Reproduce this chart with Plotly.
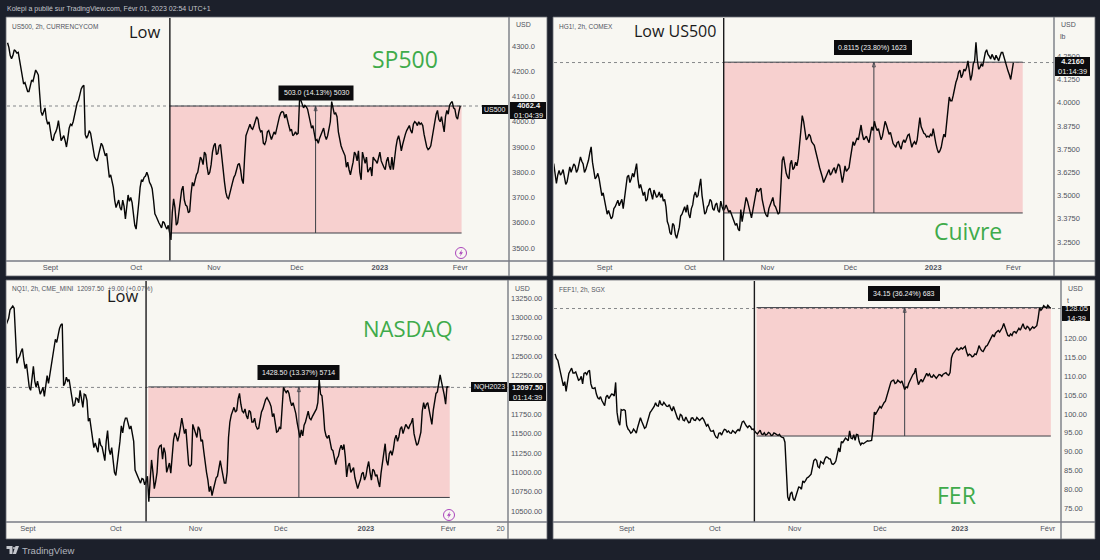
import pandas as pd
import plotly.graph_objects as go

# values, close then midday value, 10 days per row
us500_close = [
    4313, 4295, 4262, 4250, 4262, 4285, 4280, 4272, 4275, 4240, 4215, 4180, 4150, 4155, 4135, 4120, 4120, 4145, 4165, 4160,
    4190, 4205, 4196, 4185, 4110, 4040, 4025, 4045, 4055, 4010, 3990, 4000, 3960, 3930, 3925, 3950, 3960, 3975, 4005, 3960,
    3925, 3935, 3945, 3925, 3900, 3935, 3975, 3990, 3985, 4000, 4030, 4060, 4075, 4085, 4115, 4130, 4140, 4145, 3950, 3935,
    3945, 3965, 3955, 3925, 3880, 3860, 3850, 3845, 3870, 3890, 3915, 3905, 3880, 3865, 3875, 3820, 3780, 3790, 3760, 3740,
    3690, 3660, 3675, 3690, 3660, 3650, 3690, 3665, 3615, 3660, 3710, 3685, 3700, 3680, 3640, 3590, 3575, 3620, 3680, 3740,
    3770, 3765, 3780, 3785, 3800, 3785, 3760, 3750, 3735, 3690, 3635, 3625, 3610, 3600, 3590, 3580, 3605, 3600, 3585, 3575,
    3590, 3560, 3532, 3640, 3695, 3660, 3590, 3600, 3650, 3700, 3730, 3745, 3690, 3670, 3665, 3640, 3645, 3715, 3760, 3745,
    3770, 3790, 3800, 3830, 3860, 3850, 3830, 3880, 3870, 3820, 3790, 3800, 3830, 3880, 3905, 3915, 3870, 3875, 3905, 3910,
    3850, 3800, 3760, 3720, 3700, 3695, 3720, 3745, 3760, 3780, 3790, 3810, 3830, 3835, 3810, 3770, 3755, 3860, 3945, 3960,
    3980, 3990, 3975, 3970, 3985, 4000, 4020, 4010, 3975, 3960, 3965, 3915, 3910, 3925, 3960, 3965, 3950, 3930, 3945, 3960,
    3950, 3975, 4000, 4020, 4035, 4040, 4038, 4015, 4030, 4000, 3985, 3965, 3970, 3945, 3950, 3960, 3950, 3955, 4085, 4085,
    4070, 4055, 4065, 4060, 4050, 4020, 3995, 3975, 3985, 3950, 3925, 3930, 3915, 3935, 3950, 3965, 3975, 3945, 3930, 3945,
    3970, 4000, 4080, 4060, 4030, 4035, 4020, 3960, 3930, 3905, 3890, 3880, 3865, 3820, 3840, 3810, 3790, 3815, 3840, 3880,
    3870, 3845, 3885, 3800, 3770, 3880, 3860, 3835, 3860, 3800, 3810, 3820, 3785, 3860, 3850, 3845, 3835, 3860, 3880, 3845,
    3830, 3820, 3810, 3845, 3860, 3825, 3810, 3860, 3810, 3860, 3900, 3930, 3945, 3920, 3885, 3910, 3935, 3950, 3965, 3975,
    3985, 3965, 3955, 3990, 4000, 3995, 3985, 4000, 3990, 3995, 3985, 3950, 3920, 3900, 3890, 3895, 3905, 3935, 3975, 4010,
    4030, 4045, 4010, 4000, 4020, 3990, 3960, 4020, 4045, 4030, 4065, 4075, 4080, 4055, 4050, 4020, 4010, 4040, 4062.4]

copper_close = [
    3.672, 3.600, 3.565, 3.610, 3.636, 3.610, 3.620, 3.640, 3.590, 3.560, 3.574, 3.630, 3.655, 3.625, 3.645, 3.670, 3.660, 3.625, 3.640, 3.680,
    3.708, 3.685, 3.670, 3.625, 3.640, 3.665, 3.690, 3.730, 3.762, 3.680, 3.640, 3.590, 3.600, 3.620, 3.590, 3.540, 3.500, 3.515, 3.470, 3.420,
    3.400, 3.420, 3.390, 3.375, 3.386, 3.430, 3.440, 3.460, 3.475, 3.445, 3.460, 3.480, 3.430, 3.490, 3.540, 3.600, 3.610, 3.570, 3.590, 3.620,
    3.600, 3.650, 3.672, 3.590, 3.540, 3.560, 3.530, 3.500, 3.520, 3.470, 3.480, 3.530, 3.540, 3.510, 3.480, 3.530, 3.510, 3.490, 3.500, 3.520,
    3.490, 3.510, 3.470, 3.480, 3.440, 3.360, 3.340, 3.300, 3.290, 3.350, 3.340, 3.290, 3.270, 3.300, 3.330, 3.390, 3.400, 3.420, 3.440, 3.410,
    3.450, 3.400, 3.380, 3.430, 3.450, 3.500, 3.520, 3.490, 3.500, 3.550, 3.590, 3.500, 3.440, 3.400, 3.410, 3.440, 3.450, 3.480, 3.470, 3.430,
    3.420, 3.450, 3.460, 3.420, 3.410, 3.470, 3.440, 3.420, 3.430, 3.450, 3.430, 3.410, 3.420, 3.400, 3.380, 3.350, 3.340, 3.350, 3.320, 3.310,
    3.425, 3.360, 3.400, 3.450, 3.490, 3.470, 3.430, 3.410, 3.380, 3.420, 3.440, 3.500, 3.540, 3.520, 3.530, 3.540, 3.480, 3.440, 3.410, 3.395,
    3.385, 3.430, 3.450, 3.470, 3.490, 3.450, 3.440, 3.420, 3.400, 3.410, 3.560, 3.690, 3.710, 3.650, 3.620, 3.600, 3.590, 3.670, 3.690, 3.640,
    3.650, 3.680, 3.660, 3.700, 3.790, 3.860, 3.930, 3.900, 3.840, 3.800, 3.810, 3.830, 3.820, 3.790, 3.780, 3.770, 3.740, 3.700, 3.680, 3.650,
    3.630, 3.600, 3.570, 3.590, 3.610, 3.620, 3.640, 3.610, 3.620, 3.640, 3.650, 3.620, 3.640, 3.670, 3.660, 3.610, 3.570, 3.610, 3.660, 3.630,
    3.640, 3.650, 3.700, 3.760, 3.790, 3.770, 3.790, 3.810, 3.800, 3.850, 3.880, 3.830, 3.800, 3.810, 3.820, 3.800, 3.785, 3.830, 3.870, 3.850,
    3.900, 3.870, 3.850, 3.860, 3.830, 3.800, 3.820, 3.860, 3.900, 3.880, 3.860, 3.830, 3.840, 3.810, 3.780, 3.770, 3.760, 3.785, 3.790, 3.765,
    3.750, 3.785, 3.800, 3.785, 3.810, 3.825, 3.830, 3.790, 3.760, 3.780, 3.790, 3.775, 3.800, 3.860, 3.920, 3.870, 3.850, 3.835, 3.830, 3.815,
    3.820, 3.815, 3.830, 3.820, 3.860, 3.810, 3.780, 3.750, 3.730, 3.740, 3.760, 3.800, 3.830, 3.815, 3.880, 3.960, 4.030, 4.010, 4.010, 4.040,
    4.080, 4.110, 4.130, 4.165, 4.175, 4.135, 4.150, 4.180, 4.170, 4.190, 4.225, 4.170, 4.120, 4.150, 4.210, 4.225, 4.325, 4.230, 4.180, 4.190,
    4.210, 4.195, 4.240, 4.270, 4.285, 4.260, 4.250, 4.235, 4.260, 4.240, 4.230, 4.255, 4.240, 4.225, 4.250, 4.270, 4.270, 4.245, 4.210, 4.190,
    4.170, 4.150, 4.125, 4.170, 4.216]

nasdaq_close = [
    12900, 12950, 12990, 13100, 13130, 13150, 13120, 12700, 12410, 12470, 12500, 12560, 12600, 12450, 12340, 12400, 12280, 12100, 12060, 12250,
    12370, 12180, 12100, 12180, 12070, 12010, 12050, 12100, 11982, 12090, 12250, 12150, 12260, 12380, 12500, 12620, 12720, 12680, 12790, 12860,
    12906, 12920, 12120, 12150, 12230, 12180, 12200, 12100, 11990, 11860, 11870, 11960, 11950, 11900, 12060, 11950, 11840, 12010, 12000, 11930,
    11660, 11700, 11560, 11400, 11320, 11380, 11300, 11260, 11440, 11350, 11330, 11250, 11150, 11400, 11540, 11300, 11230, 11320, 11150, 11000,
    10960, 11100, 11200, 11400, 11600, 11510, 11640, 11700, 11700, 11620, 11560, 11600, 11500, 11400, 11030, 10990, 10960, 10900, 10860, 10920,
    10910, 10840, 10880, 10950, 10620, 10900, 11160, 11000, 10790, 10880, 11000, 11300, 11340, 11350, 11170, 11320, 11250, 11000, 11060, 11120,
    10990, 11200, 11420, 11510, 11470, 11400, 11470, 11580, 11700, 11600, 11500, 11560, 11350, 11100, 11080, 11100, 11620, 11560, 11500, 11450,
    11590, 11550, 11400, 11420, 11270, 11090, 11000, 10900, 10750, 10820, 10700, 10780, 10850, 10930, 10950, 11060, 11150, 11050, 10950, 10860,
    10860, 11000, 11450, 11650, 11740, 11800, 11840, 11780, 11800, 11950, 12020, 11880, 11790, 11770, 11820, 11730, 11690, 11800, 11780, 11650,
    11650, 11700, 11600, 11560, 11570, 11680, 11780, 11820, 11900, 11940, 11965, 11940, 11900, 11850, 11720, 11760, 11640, 11520, 11530, 11580,
    11560, 11800, 12100, 12060, 12030, 12060, 12020, 11920, 11860, 11900, 11830, 11760, 11640, 11520, 11450, 11550, 11470, 11610, 11650, 11720,
    11790, 11700, 11680, 11720, 11760, 11780, 11820, 11900, 12200, 12010, 11990, 11800, 11550, 11470, 11440, 11480, 11390, 11300, 11280, 11180,
    11100, 11180, 11210, 11300, 11350, 11290, 11360, 11200, 10940, 11080, 11120, 11000, 11030, 11060, 10930, 10860, 10790, 10850, 10900, 10980,
    11000, 10900, 10950, 11060, 11140, 11000, 10900, 11040, 11020, 10950, 10970, 10880, 10810, 10990, 11100, 11250, 11370, 11150, 11090, 11240,
    11280, 11220, 11300, 11430, 11480, 11400, 11460, 11560, 11590, 11500, 11550, 11620, 11590, 11560, 11610, 11640, 11700, 11500, 11420, 11350,
    11370, 11440, 11520, 11790, 11900, 11820, 11880, 11900, 11820, 11700, 11620, 11800, 11900, 12020, 12040, 12150, 12260, 12170, 12090, 12000,
    11880, 12110, 12097.5]

iron_close = [
    116.0, 114.8, 114.3, 112.5, 110.5, 108.8, 107.5, 108.6, 106.0, 108.5, 110.8, 111.5, 112.2, 110.9, 110.9, 111.2, 110.3, 109.0, 109.2, 110.0,
    108.0, 110.8, 111.0, 110.5, 111.3, 111.6, 108.0, 106.9, 106.8, 107.0, 105.3, 104.3, 104.0, 104.6, 103.6, 102.7, 102.2, 104.5, 105.0, 104.1,
    104.6, 105.3, 105.2, 104.8, 108.4, 100.5, 98.0, 97.0, 101.2, 101.0, 101.2, 100.9, 97.0, 96.0, 95.6, 94.9, 95.2, 96.0, 95.5, 94.9,
    96.5, 97.8, 99.0, 98.0, 97.0, 96.2, 96.5, 97.8, 98.5, 100.4, 100.9, 101.5, 102.0, 103.0, 102.2, 102.1, 103.6, 102.6, 102.4, 103.1,
    102.4, 102.1, 102.0, 102.5, 101.5, 100.8, 102.0, 101.0, 100.0, 98.8, 98.5, 99.9, 99.6, 98.4, 98.2, 99.2, 98.4, 97.7, 97.8, 98.9,
    99.0, 98.4, 98.3, 99.1, 98.7, 98.3, 98.7, 99.0, 98.5, 97.4, 96.8, 97.2, 96.5, 95.5, 95.4, 95.6, 94.5, 93.8, 93.6, 94.9,
    95.0, 94.4, 95.3, 95.9, 95.8, 95.2, 95.5, 95.0, 94.9, 95.6, 95.3, 94.9, 95.5, 95.9, 95.5, 96.6, 97.9, 98.1, 97.3, 96.8,
    96.4, 96.9, 96.6, 95.9, 96.0, 95.4, 95.0, 94.7, 95.4, 95.7, 94.7, 94.5, 95.0, 94.4, 94.6, 95.1, 94.9, 94.3, 94.4, 95.0,
    94.8, 94.5, 94.3, 94.6, 94.0, 93.8, 93.7, 92.5, 84.0, 78.0, 76.9, 78.8, 79.3, 77.5, 77.0, 78.2, 79.0, 80.6, 80.5, 80.0,
    82.2, 81.8, 82.3, 83.0, 83.2, 83.5, 84.0, 85.8, 87.6, 88.0, 87.7, 86.0, 85.7, 87.4, 87.0, 86.8, 88.0, 88.6, 88.5, 88.1,
    88.0, 86.8, 86.6, 86.9, 87.5, 89.5, 91.0, 89.9, 92.7, 92.4, 93.0, 93.6, 93.3, 92.9, 95.5, 93.6, 93.4, 94.5, 93.0, 94.6,
    94.5, 92.6, 91.8, 92.3, 92.1, 92.4, 92.7, 92.9, 92.8, 93.0, 93.0, 96.0, 100.5, 100.0, 100.6, 101.5, 102.0, 101.6, 102.4, 103.0,
    103.4, 104.8, 106.0, 107.5, 108.5, 108.9, 109.0, 108.1, 108.3, 109.0, 108.7, 108.3, 108.8, 107.5, 106.5, 107.2, 107.0, 108.2, 109.0, 109.6,
    110.5, 110.9, 112.2, 109.5, 107.8, 108.6, 109.2, 108.5, 109.3, 110.3, 110.8, 110.2, 110.7, 109.9, 109.8, 110.4, 109.8, 109.5, 110.0, 110.5,
    110.4, 110.0, 110.6, 110.9, 111.0, 110.5, 110.3, 111.0, 114.9, 116.0, 116.4, 117.0, 117.5, 117.0, 117.2, 117.6, 117.3, 117.6, 118.0, 116.5,
    115.5, 115.9, 115.7, 115.2, 115.4, 116.0, 115.8, 116.8, 118.2, 117.4, 116.8, 116.6, 117.5, 118.0, 118.2, 119.0, 119.9, 120.5, 121.1, 120.5,
    121.5, 121.9, 122.2, 121.8, 122.4, 123.0, 124.1, 122.6, 121.9, 120.9, 120.7, 121.3, 120.9, 121.8, 121.9, 121.5, 122.4, 122.8, 122.3, 123.0,
    124.0, 122.9, 122.6, 123.3, 123.0, 122.3, 122.7, 123.2, 122.8, 123.1, 123.5, 125.5, 128.2, 127.6, 128.0, 128.8, 128.6, 128.2, 128.9, 128.4,
    128.05]

# tick labels
month_labels = ["Sept", "Oct", "Nov", "Déc", "<b>2023</b>", "Févr"]
month_dates = ["2022-09-01", "2022-10-03", "2022-11-01", "2022-12-02", "2023-01-02", "2023-02-01"]
us500_ticks = [4300, 4200, 4100, 4000, 3900, 3800, 3700, 3600, 3500]
copper_ticks = [4.25, 4.125, 4.0, 3.875, 3.75, 3.625, 3.5, 3.375, 3.25]
nasdaq_ticks = [13250, 13000, 12750, 12500, 12250, 11750, 11500, 11250, 11000, 10750, 10500]
iron_ticks = [120, 115, 110, 105, 100, 95, 90, 85, 80, 75]

BG = "#1c202b"
PANEL = "#f8f7f2"
PINK = "#f7d0cf"
GREEN = "#3fab4b"
TXT = "#50535e"
SEP = "#787b84"
FONT = "Liberation Sans"
BIG = "Open Sans"


def day(d):
    return pd.Timestamp("2022-09-01") + pd.Timedelta(days=d)


# pixel boxes are only layout; price/time bits come from the chart
panels = [
    dict(name="US500, 2h, CURRENCYCOM", vals=us500_close, start=-16, box=(7, 18, 509, 261), outer=(547, 276), xr=(-16.2, 171.2),
         yr=(3448.5, 4411), ticks=us500_ticks, fmt=".1f", low=44.6, end=153.5, arrow=99, lo=3559.4, hi=4062.4, last=4062.4,
         label="503.0 (14.13%) 5030", lab=(316, 93, 75, 15)),
    dict(name="HG1!, 2h, COMEX", vals=copper_close, start=-19, box=(554, 18, 1054, 261), outer=(1095, 276), xr=(-18.9, 168.2),
         yr=(3.148, 4.4557), ticks=copper_ticks, fmt=".4f", low=44.6, end=156.5, arrow=100.8, lo=3.4065, hi=4.218, last=4.216,
         label="0.8115 (23.80%) 1623", lab=(873, 47.5, 78, 15)),
    dict(name="NQ1!, 2h, CME_MINI  12097.50  +9.00 (+0.07%)", vals=nasdaq_close, start=-8, box=(7, 281, 508, 522), outer=(547, 539), xr=(-7.6, 174.7),
         yr=(10358, 13473), ticks=nasdaq_ticks, fmt=".2f", low=43.0, end=153.5, arrow=98.6, lo=10675.5, hi=12104, last=12097.5,
         label="1428.50 (13.37%) 5714", lab=(298.5, 372.5, 82, 15)),
    dict(name="FEF1!, 2h, SGX", vals=iron_close, start=-26, box=(554, 281, 1061, 522), outer=(1095, 539), xr=(-26.4, 157.8),
         yr=(71.29, 135.37), ticks=iron_ticks, fmt=".2f", low=46.4, end=154.1, arrow=101, lo=94.15, hi=128.3, last=128.05,
         label="34.15 (36.24%) 683", lab=(904, 293.5, 72, 15)),
]

fig = go.Figure()
shapes = []
annots = []


def px(x):
    return x / 1100


def py(y):
    return 1 - y / 560


def add_text(x, y, text, size=7, color=TXT, family=FONT, xanchor="left"):
    annots.append(dict(x=px(x), y=py(y), xref="paper", yref="paper", text=text, showarrow=False,
                       xanchor=xanchor, yanchor="middle", font=dict(size=size, color=color, family=family)))


def add_tag(x0, y0, x1, y1, text, size=7.5, color="#f0f0f0"):
    shapes.append(dict(type="rect", xref="paper", yref="paper", x0=px(x0), x1=px(x1), y0=py(y0), y1=py(y1),
                       fillcolor="#0c0c0e", line=dict(width=0), layer="above"))
    add_text((x0 + x1) / 2, (y0 + y1) / 2, text, size=size, color=color, xanchor="center")


def add_sep(x0, y0, x1, y1):
    shapes.append(dict(type="line", xref="paper", yref="paper", x0=px(x0), x1=px(x1), y0=py(y0), y1=py(y1),
                       line=dict(color=SEP, width=1.4)))


def add_bolt(cx, cy):
    shapes.append(dict(type="circle", xref="paper", yref="paper", x0=px(cx - 5.5), x1=px(cx + 5.5), y0=py(cy + 5.5), y1=py(cy - 5.5),
                       line=dict(color="#ab47bc", width=1), fillcolor="rgba(0,0,0,0)"))
    pts = [(1, -3.5), (-2, 0.7), (-0.2, 0.7), (-1, 3.5), (2, -0.7), (0.2, -0.7)]
    path = "M " + " L ".join(f"{px(cx + a):.5f},{py(cy + b):.5f}" for a, b in pts) + " Z"
    shapes.append(dict(type="path", xref="paper", yref="paper", path=path, fillcolor="#ab47bc", line=dict(width=0)))


for i, p in enumerate(panels):
    n = "" if i == 0 else str(i + 1)
    xa, ya = "x" + n, "y" + n
    l, t, r, b = p["box"]
    dates = pd.date_range(day(p["start"]), periods=len(p["vals"]), freq="12h")

    # whole panel background including the axis strips
    shapes.append(dict(type="rect", xref="paper", yref="paper", x0=px(l - 1), x1=px(p["outer"][0]), y0=py(p["outer"][1]), y1=py(t - 1),
                       fillcolor=PANEL, line=dict(width=0.8, color="#6a6d75"), layer="below"))

    # measure box
    box_x0 = day(p["low"] + (0.8 if i >= 2 else 0))
    shapes.append(dict(type="rect", xref=xa, yref=ya, x0=box_x0, x1=day(p["end"]), y0=p["lo"], y1=p["hi"],
                       fillcolor=PINK, line=dict(width=0), layer="below"))
    for lev in (p["lo"], p["hi"]):
        shapes.append(dict(type="line", xref=xa, yref=ya, x0=box_x0, x1=day(p["end"]), y0=lev, y1=lev,
                           line=dict(color="#3c3f46", width=1), layer="below"))
    shapes.append(dict(type="line", xref=xa, yref=ya, x0=day(p["arrow"]), x1=day(p["arrow"]), y0=p["lo"], y1=p["hi"],
                       line=dict(color="#3c3f46", width=1), layer="below"))
    # dotted last price
    shapes.append(dict(type="line", xref=xa, yref=ya, x0=day(p["xr"][0]), x1=day(p["xr"][1]), y0=p["last"], y1=p["last"],
                       line=dict(color="#55585f", width=0.7, dash="dot"), layer="below"))
    # low marker
    shapes.append(dict(type="line", xref=xa, yref="paper", x0=day(p["low"]), x1=day(p["low"]), y0=py(b), y1=py(t),
                       line=dict(color="#1a1a1c", width=1.4)))

    fig.add_trace(go.Scatter(x=dates, y=p["vals"], mode="lines", xaxis=xa, yaxis=ya, showlegend=False,
                             line=dict(color="#060606", width=1.4)))
    fig.add_trace(go.Scatter(x=[day(p["arrow"])], y=[p["hi"]], mode="markers", xaxis=xa, yaxis=ya, showlegend=False,
                             marker=dict(symbol="arrow-open", size=5, color="#3c3f46", line=dict(width=0.8, color="#3c3f46"))))

    tickv = [pd.Timestamp(d) for d in month_dates]
    tickt = list(month_labels)
    if i == 2:
        tickv.append(day(172))
        tickt.append("20")
    if i == 3:
        tickv[4] = pd.Timestamp("2022-12-31")

    ax_line = dict(showline=False, showgrid=False, zeroline=False, ticks="", automargin=False)
    fig.update_layout(**{
        "xaxis" + n: dict(domain=[px(l), px(r)], range=[day(p["xr"][0]), day(p["xr"][1])], anchor=ya, type="date",
                          tickvals=tickv, ticktext=tickt, tickfont=dict(size=7.5, color=TXT, family=FONT), **ax_line),
        "yaxis" + n: dict(domain=[py(b), py(t)], range=list(p["yr"]), anchor=xa, side="right", ticklabelstandoff=2,
                          tickvals=p["ticks"], ticktext=[format(v, p["fmt"]) for v in p["ticks"]],
                          tickfont=dict(size=7.5, color=TXT, family=FONT), **ax_line),
    })

    # axis strip separators run to the panel edges
    add_sep(r, t - 1, r, p["outer"][1])
    add_sep(l - 1, b, p["outer"][0], b)

    add_text(l + 3, t + 8, p["name"], size=6.5)
    add_text(r + 5, t + 7, "USD")
    cx, cy, w, h = p["lab"]
    add_tag(cx - w / 2, cy - h / 2, cx + w / 2, cy + h / 2, p["label"], size=7)

add_text(1058, 37, "lb")
add_text(1065, 300, "t")

# right hand tags
add_tag(482, 105, 508, 114, "US500", size=7)
add_tag(510, 102, 546, 119, "<b>4062.4</b><br>01:04:39")
add_tag(1055, 57, 1090, 76, "<b>4.2160</b><br>01:14:39")
add_tag(471, 382, 507, 392, "NQH2023", size=7)
add_tag(509, 383, 546, 401, "<b>12097.50</b><br>01:14:39")
add_tag(1062, 306, 1090, 321, "128.05<br>14:39")

# big hand written notes
add_text(145, 31, "Low", size=16.5, color="#1a1a1a", family=BIG, xanchor="center")
add_text(405, 59, "SP500", size=23, color=GREEN, family=BIG, xanchor="center")
add_text(674.5, 31, "Low US500", size=16, color="#1a1a1a", family=BIG, xanchor="center")
add_text(968, 231, "Cuivre", size=23, color=GREEN, family=BIG, xanchor="center")
add_text(122.8, 295, "Low", size=16.5, color="#1a1a1a", family=BIG, xanchor="center")
add_text(408, 328, "NASDAQ", size=22, color=GREEN, family=BIG, xanchor="center")
add_text(956, 495, "FER", size=23, color=GREEN, family=BIG, xanchor="center")

add_bolt(461, 253)
add_bolt(449, 515)

# header + footer
add_text(5, 9, "Kolepi a publié sur TradingView.com, Févr 01, 2023 02:54 UTC+1", color="#c4c6cc")
add_text(20, 550, "TradingView", size=9.5, color="#b2b5be")
logo = [(6.5, 546), (12.5, 546), (12.5, 554), (9.5, 554), (9.5, 549), (6.5, 549)]
shapes.append(dict(type="path", xref="paper", yref="paper", fillcolor="#c4c6cc", line=dict(width=0),
                   path="M " + " L ".join(f"{px(a):.5f},{py(c):.5f}" for a, c in logo) + " Z"))
logo2 = [(15.5, 546), (19, 546), (16, 554), (12.8, 554)]
shapes.append(dict(type="path", xref="paper", yref="paper", fillcolor="#c4c6cc", line=dict(width=0),
                   path="M " + " L ".join(f"{px(a):.5f},{py(c):.5f}" for a, c in logo2) + " Z"))
shapes.append(dict(type="circle", xref="paper", yref="paper", fillcolor="#c4c6cc", line=dict(width=0),
                   x0=px(13), x1=px(15), y0=py(549), y1=py(547)))

fig.update_layout(width=1100, height=560, margin=dict(l=0, r=0, t=0, b=0), paper_bgcolor=BG, plot_bgcolor=PANEL,
                  shapes=shapes, annotations=annots, showlegend=False)
fig.write_html("out.html", config={"displayModeBar": False}, post_script="document.body.style.margin='0';")
